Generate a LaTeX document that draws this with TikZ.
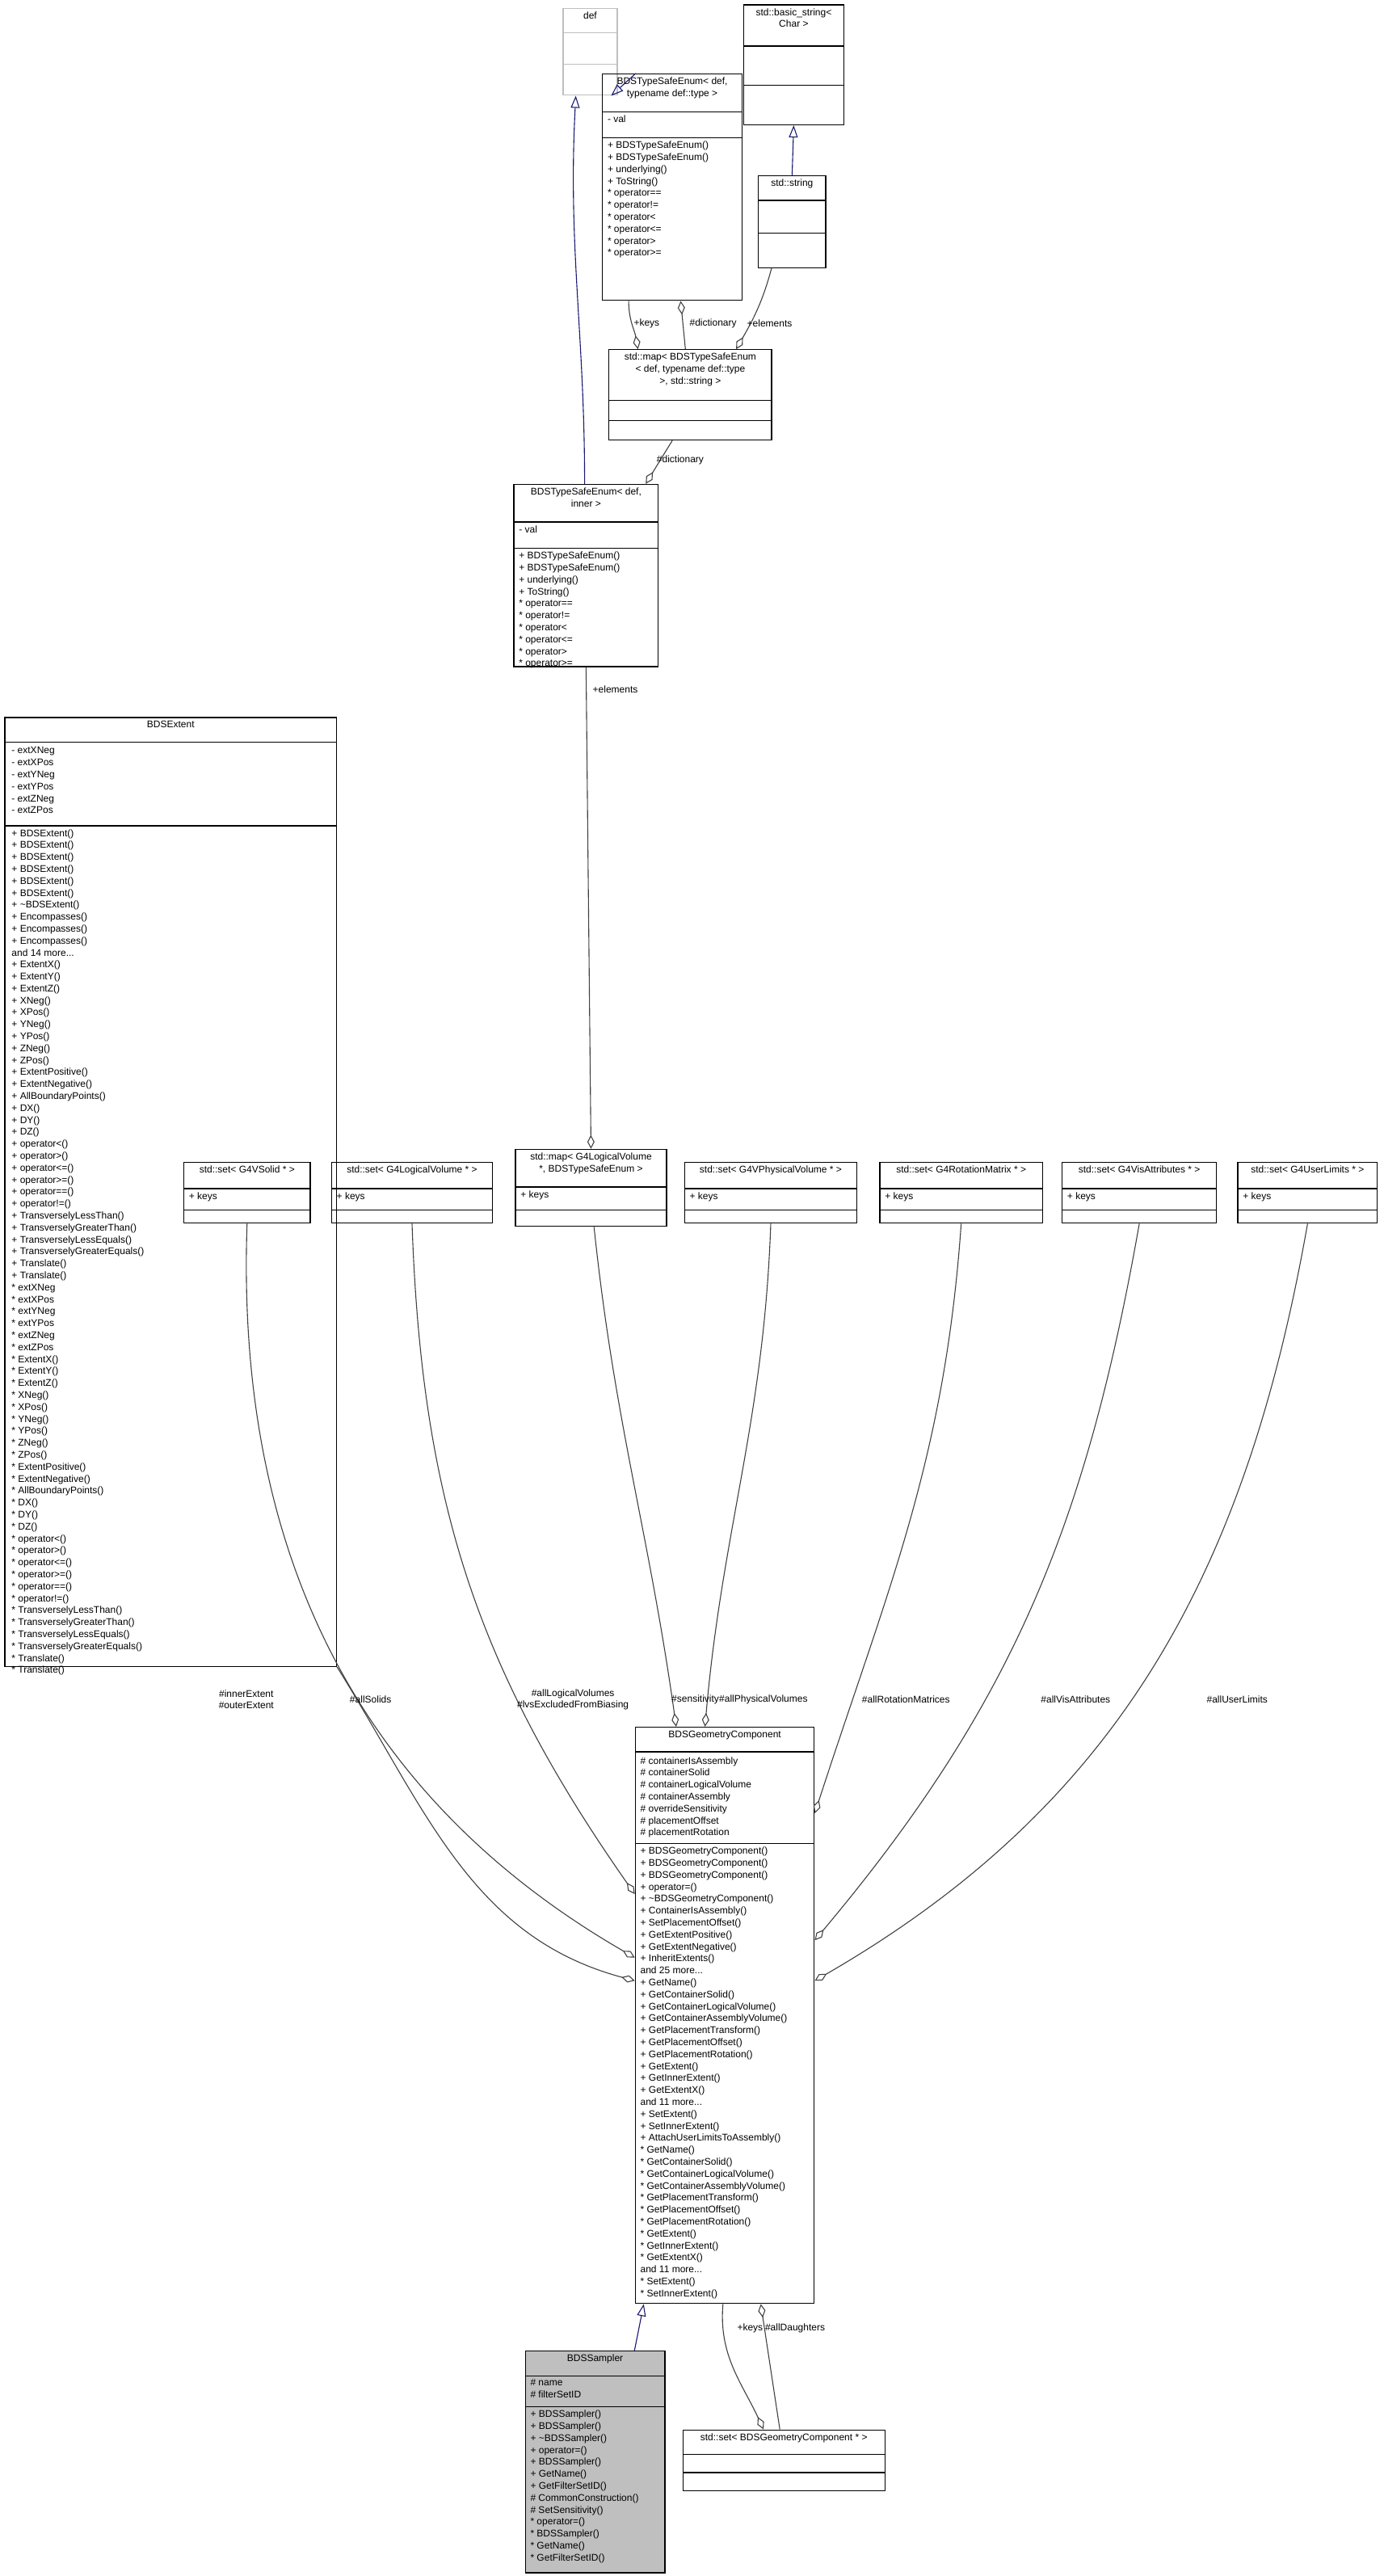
\documentclass[tikz,border=0pt]{standalone}
\usepackage{fontspec}
\setmainfont{Liberation Sans}
\usetikzlibrary{arrows.meta,calc,fit}

\definecolor{navy}{HTML}{191970}
\definecolor{linegray}{HTML}{404040}
\definecolor{boxgray}{HTML}{BFBFBF}
\definecolor{undocgray}{HTML}{BFBFBF}

\tikzset{
  umlframe/.style={draw=black, line width=1.3pt, inner sep=0pt},
  txt/.style={inner sep=0pt, align=left, font=\fontsize{12}{14.8}\selectfont},
  lbl/.style={inner sep=0pt, align=center, font=\fontsize{12}{14.2}\selectfont},
  inherit/.style={draw=navy, line width=1.1pt, -{Triangle[open,length=15pt,width=11pt]}},
  aggr/.style={draw=linegray, line width=1.1pt, -{Diamond[open,length=17pt,width=9pt]}},
  plain/.style={draw=linegray, line width=1.1pt},
}

% box with two separators
\newcommand{\umlbox}[8]{%
  \node[umlframe, #8, fit={(#2,#3) (#4,#5)}] (#1) {};
  \draw[#8, fill=none] (#2,#6) -- (#4,#6);
  \draw[#8, fill=none] (#2,#7) -- (#4,#7);
}
\newcommand{\boxtitle}[4]{\node[txt, align=center, anchor=north] (#1) at ({(#2)},#3) {#4};}
\newcommand{\boxtext}[4]{\node[txt, anchor=north west] (#1) at (#2,#3) {#4};}

\begin{document}
\begin{tikzpicture}[x=2.032pt, y=-2.032pt]
  \useasboundingbox (0,0) rectangle (843,1569);

  % oberste Reihe
  \umlbox{defcls}{343}{5}{376}{58}{20}{39}{draw=undocgray, umlframe, draw=undocgray}
  \boxtitle{defT}{359.5}{7}{def}

  \umlbox{basicstr}{453}{3}{514}{76}{28}{52}{umlframe}
  \boxtitle{basicstrT}{483.5}{5}{std::basic\_string\textless\\Char \textgreater}

  \umlbox{tseType}{367}{45}{452}{183}{68}{84}{umlframe}
  \boxtitle{tseTypeT}{409.5}{47}{BDSTypeSafeEnum\textless{} def,\\typename def::type \textgreater}
  \boxtext{tseTypeA}{370}{70}{- val}
  \boxtext{tseTypeM}{370}{86}{+ BDSTypeSafeEnum()\\+ BDSTypeSafeEnum()\\+ underlying()\\+ ToString()\\* operator==\\* operator!=\\* operator\textless\\* operator\textless=\\* operator\textgreater\\* operator\textgreater=}

  \umlbox{stdstr}{462}{107}{503}{163}{122}{142}{umlframe}
  \boxtitle{stdstrT}{482.5}{109}{std::string}

  \umlbox{mapType}{371}{213}{470}{268}{244}{256}{umlframe}
  \boxtitle{mapTypeT}{420.5}{215}{std::map\textless{} BDSTypeSafeEnum\\\textless{} def, typename def::type\\\textgreater, std::string \textgreater}

  \umlbox{tseInner}{313}{295}{401}{406}{318}{334}{umlframe}
  \boxtitle{tseInnerT}{357}{297}{BDSTypeSafeEnum\textless{} def,\\inner \textgreater}
  \boxtext{tseInnerA}{316}{320}{- val}
  \boxtext{tseInnerM}{316}{336}{+ BDSTypeSafeEnum()\\+ BDSTypeSafeEnum()\\+ underlying()\\+ ToString()\\* operator==\\* operator!=\\* operator\textless\\* operator\textless=\\* operator\textgreater\\* operator\textgreater=}

  % BDSExtent
  \umlbox{extent}{3}{437}{205}{1015}{452}{503}{umlframe}
  \boxtitle{extentT}{104}{439}{BDSExtent}
  \boxtext{extentA}{7}{455}{- extXNeg\\- extXPos\\- extYNeg\\- extYPos\\- extZNeg\\- extZPos}
  \boxtext{extentM}{7}{505}{+ BDSExtent()\\+ BDSExtent()\\+ BDSExtent()\\+ BDSExtent()\\+ BDSExtent()\\+ BDSExtent()\\+ \textasciitilde BDSExtent()\\+ Encompasses()\\+ Encompasses()\\+ Encompasses()\\and 14 more...\\+ ExtentX()\\+ ExtentY()\\+ ExtentZ()\\+ XNeg()\\+ XPos()\\+ YNeg()\\+ YPos()\\+ ZNeg()\\+ ZPos()\\+ ExtentPositive()\\+ ExtentNegative()\\+ AllBoundaryPoints()\\+ DX()\\+ DY()\\+ DZ()\\+ operator\textless()\\+ operator\textgreater()\\+ operator\textless=()\\+ operator\textgreater=()\\+ operator==()\\+ operator!=()\\+ TransverselyLessThan()\\+ TransverselyGreaterThan()\\+ TransverselyLessEquals()\\+ TransverselyGreaterEquals()\\+ Translate()\\+ Translate()\\* extXNeg\\* extXPos\\* extYNeg\\* extYPos\\* extZNeg\\* extZPos\\* ExtentX()\\* ExtentY()\\* ExtentZ()\\* XNeg()\\* XPos()\\* YNeg()\\* YPos()\\* ZNeg()\\* ZPos()\\* ExtentPositive()\\* ExtentNegative()\\* AllBoundaryPoints()\\* DX()\\* DY()\\* DZ()\\* operator\textless()\\* operator\textgreater()\\* operator\textless=()\\* operator\textgreater=()\\* operator==()\\* operator!=()\\* TransverselyLessThan()\\* TransverselyGreaterThan()\\* TransverselyLessEquals()\\* TransverselyGreaterEquals()\\* Translate()\\* Translate()}

  % Reihe der Mengen
  \umlbox{setSolid}{112}{708}{189}{745}{724}{737}{umlframe}
  \boxtitle{setSolidT}{150.5}{710}{std::set\textless{} G4VSolid * \textgreater}
  \boxtext{setSolidA}{115}{726}{+ keys}

  \umlbox{setLV}{202}{708}{300}{745}{724}{737}{umlframe}
  \boxtitle{setLVT}{251}{710}{std::set\textless{} G4LogicalVolume * \textgreater}
  \boxtext{setLVA}{205}{726}{+ keys}

  \umlbox{mapLV}{314}{700}{406}{747}{723}{737}{umlframe}
  \boxtitle{mapLVT}{360}{702}{std::map\textless{} G4LogicalVolume\\*, BDSTypeSafeEnum \textgreater}
  \boxtext{mapLVA}{317}{725}{+ keys}

  \umlbox{setPV}{417}{708}{522}{745}{724}{737}{umlframe}
  \boxtitle{setPVT}{469.5}{710}{std::set\textless{} G4VPhysicalVolume * \textgreater}
  \boxtext{setPVA}{420}{726}{+ keys}

  \umlbox{setRot}{536}{708}{635}{745}{724}{737}{umlframe}
  \boxtitle{setRotT}{585.5}{710}{std::set\textless{} G4RotationMatrix * \textgreater}
  \boxtext{setRotA}{539}{726}{+ keys}

  \umlbox{setVis}{647}{708}{741}{745}{724}{737}{umlframe}
  \boxtitle{setVisT}{694}{710}{std::set\textless{} G4VisAttributes * \textgreater}
  \boxtext{setVisA}{650}{726}{+ keys}

  \umlbox{setUL}{754}{708}{839}{745}{724}{737}{umlframe}
  \boxtitle{setULT}{796.5}{710}{std::set\textless{} G4UserLimits * \textgreater}
  \boxtext{setULA}{757}{726}{+ keys}

  % BDSGeometryComponent
  \umlbox{geomComp}{387}{1052}{496}{1403}{1067}{1123}{umlframe}
  \boxtitle{geomCompT}{441.5}{1054}{BDSGeometryComponent}
  \boxtext{geomCompA}{390}{1070}{\# containerIsAssembly\\\# containerSolid\\\# containerLogicalVolume\\\# containerAssembly\\\# overrideSensitivity\\\# placementOffset\\\# placementRotation}
  \boxtext{geomCompM}{390}{1125}{+ BDSGeometryComponent()\\+ BDSGeometryComponent()\\+ BDSGeometryComponent()\\+ operator=()\\+ \textasciitilde BDSGeometryComponent()\\+ ContainerIsAssembly()\\+ SetPlacementOffset()\\+ GetExtentPositive()\\+ GetExtentNegative()\\+ InheritExtents()\\and 25 more...\\+ GetName()\\+ GetContainerSolid()\\+ GetContainerLogicalVolume()\\+ GetContainerAssemblyVolume()\\+ GetPlacementTransform()\\+ GetPlacementOffset()\\+ GetPlacementRotation()\\+ GetExtent()\\+ GetInnerExtent()\\+ GetExtentX()\\and 11 more...\\+ SetExtent()\\+ SetInnerExtent()\\+ AttachUserLimitsToAssembly()\\* GetName()\\* GetContainerSolid()\\* GetContainerLogicalVolume()\\* GetContainerAssemblyVolume()\\* GetPlacementTransform()\\* GetPlacementOffset()\\* GetPlacementRotation()\\* GetExtent()\\* GetInnerExtent()\\* GetExtentX()\\and 11 more...\\* SetExtent()\\* SetInnerExtent()}

  % BDSSampler
  \umlbox{sampler}{320}{1432}{405}{1567}{1447}{1466}{umlframe, fill=boxgray}
  \boxtitle{samplerT}{362.5}{1434}{BDSSampler}
  \boxtext{samplerA}{323}{1449}{\# name\\\# filterSetID}
  \boxtext{samplerM}{323}{1468}{+ BDSSampler()\\+ BDSSampler()\\+ \textasciitilde BDSSampler()\\+ operator=()\\+ BDSSampler()\\+ GetName()\\+ GetFilterSetID()\\\# CommonConstruction()\\\# SetSensitivity()\\* operator=()\\* BDSSampler()\\* GetName()\\* GetFilterSetID()}

  \umlbox{setGC}{416}{1480}{539}{1517}{1495}{1506}{umlframe}
  \boxtitle{setGCT}{477.5}{1482}{std::set\textless{} BDSGeometryComponent * \textgreater}

  % Vererbung
  \draw[inherit] ($(tseType.north west)!0.24!(tseType.north east)$) -- ($(defcls.south west)!0.88!(defcls.south east)$);
  \draw[inherit] ($(tseInner.north west)!0.49!(tseInner.north east)$) to[out=90,in=-93] ($(defcls.south west)!0.24!(defcls.south east)$);
  \draw[inherit] (stdstr.north) -- (basicstr.south);
  \draw[inherit] ($(sampler.north west)!0.78!(sampler.north east)$) -- ($(geomComp.south west)!0.05!(geomComp.south east)$);

  % Aggregationen oben
  \draw[aggr] ($(tseType.south west)!0.19!(tseType.south east)$) to[out=-90,in=100] ($(mapType.north west)!0.18!(mapType.north east)$);
  \draw[aggr] ($(mapType.north west)!0.47!(mapType.north east)$) -- ($(tseType.south west)!0.56!(tseType.south east)$);
  \draw[aggr] ($(stdstr.south west)!0.2!(stdstr.south east)$) to[out=-105,in=60] ($(mapType.north west)!0.78!(mapType.north east)$);
  \draw[aggr] ($(mapType.south west)!0.39!(mapType.south east)$) -- ($(tseInner.north west)!0.91!(tseInner.north east)$);
  \draw[aggr] (tseInner.south) -- (mapLV.north);
  \node[lbl, anchor=west] (lKeys1) at (386,197) {+keys};
  \node[lbl, anchor=west] (lDict1) at (420,197) {\#dictionary};
  \node[lbl, anchor=west] (lElem1) at (455,197) {+elements};
  \node[lbl, anchor=west] (lDict2) at (400,280) {\#dictionary};
  \node[lbl, anchor=west] (lElem2) at (361,420) {+elements};

  % Aggregationen zu BDSGeometryComponent
  \draw[aggr] (extent.south east) to[out=-58,in=165] ($(geomComp.north west)!0.44!(geomComp.south west)$);
  \draw[aggr] (setSolid.south) to[out=-92,in=150] ($(geomComp.north west)!0.40!(geomComp.south west)$);
  \draw[aggr] (setLV.south) to[out=-88,in=125] ($(geomComp.north west)!0.29!(geomComp.south west)$);
  \draw[aggr] ($(mapLV.south west)!0.52!(mapLV.south east)$) to[out=-84,in=98] ($(geomComp.north west)!0.23!(geomComp.north east)$);
  \draw[aggr] (setPV.south) to[out=-92,in=85] ($(geomComp.north west)!0.39!(geomComp.north east)$);
  \draw[aggr] (setRot.south) to[out=-94,in=72] ($(geomComp.north east)!0.15!(geomComp.south east)$);
  \draw[aggr] (setVis.south) to[out=-100,in=50] ($(geomComp.north east)!0.37!(geomComp.south east)$);
  \draw[aggr] (setUL.south) to[out=-100,in=30] ($(geomComp.north east)!0.44!(geomComp.south east)$);
  \node[lbl] (lExtent) at (150,1035) {\#innerExtent\\\#outerExtent};
  \node[lbl, anchor=west] (lSolids) at (213,1035) {\#allSolids};
  \node[lbl] (lLV) at (349,1035) {\#allLogicalVolumes\\\#lvsExcludedFromBiasing};
  \node[lbl, anchor=west] (lSens) at (409,1035) {\#sensitivity};
  \node[lbl, anchor=west] (lPV) at (438,1035) {\#allPhysicalVolumes};
  \node[lbl, anchor=west] (lRot) at (525,1035) {\#allRotationMatrices};
  \node[lbl, anchor=west] (lVis) at (634,1035) {\#allVisAttributes};
  \node[lbl, anchor=west] (lUL) at (735,1035) {\#allUserLimits};

  % unten
  \draw[aggr] ($(geomComp.south west)!0.49!(geomComp.south east)$) to[out=-95,in=115] ($(setGC.north west)!0.40!(setGC.north east)$);
  \draw[aggr] ($(setGC.north west)!0.48!(setGC.north east)$) -- ($(geomComp.south west)!0.70!(geomComp.south east)$);
  \node[lbl, anchor=west] (lKeys2) at (449,1418) {+keys};
  \node[lbl, anchor=west] (lDaught) at (466,1418) {\#allDaughters};
\end{tikzpicture}
\end{document}
